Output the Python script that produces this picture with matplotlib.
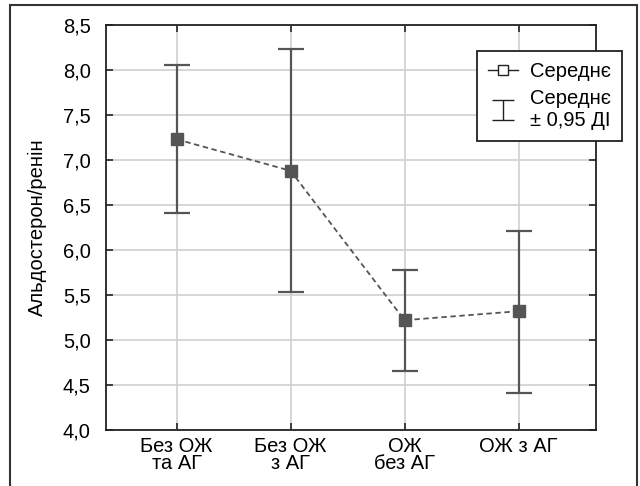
import numpy as np
import matplotlib.pyplot as plt
from matplotlib import font_manager
from matplotlib.lines import Line2D
from matplotlib.patches import Rectangle

# pick the regular-width Liberation Sans file (avoid the Narrow variant)
font_file = None
for f in font_manager.fontManager.ttflist:
    if f.name == "Liberation Sans" and "Narrow" not in f.fname and f.style == "normal" and f.weight in (400, "normal", "regular"):
        font_file = f.fname
        break
if font_file:
    fam = font_manager.FontProperties(fname=font_file).get_name()
else:
    fam = "DejaVu Sans"
plt.rcParams['font.family'] = [fam, 'DejaVu Sans']

# ── Data ─────────────────────────────────────────────────────────────────────
groups = ["Без ОЖ\nта АГ", "Без ОЖ\nз АГ", "ОЖ\nбез АГ", "ОЖ з АГ"]
means = [7.23, 6.88, 5.22, 5.32]
ci_low = [6.41, 5.53, 4.66, 4.41]
ci_high = [8.06, 8.23, 5.78, 6.21]
yticks = [4.0, 4.5, 5.0, 5.5, 6.0, 6.5, 7.0, 7.5, 8.0, 8.5]

col = "#555555"
fs = 14.5
x = np.arange(len(groups))
means_a = np.array(means)
yerr = [means_a - np.array(ci_low), np.array(ci_high) - means_a]

fig = plt.figure(figsize=(6.4, 4.86), dpi=100)
ax = fig.add_axes([106 / 640, 1 - 430 / 486, 490 / 640, 405 / 486])

ax.errorbar(x, means, yerr=yerr, fmt="none", ecolor=col, elinewidth=1.6,
            capsize=9.5, capthick=1.6, zorder=3)
ax.plot(x, means, linestyle=(0, (3, 2)), color=col, linewidth=1.3, zorder=3)
ax.plot(x, means, linestyle="none", marker="s", markersize=9,
        color=col, markeredgecolor=col, zorder=4)

ax.set_xlim(-0.62, 3.68)
ax.set_ylim(4.0, 8.5)
ax.set_xticks(x)
ax.set_xticklabels(groups, fontsize=fs, linespacing=0.85)
ax.set_yticks(yticks)
ax.set_yticklabels([f"{v:.1f}".replace(".", ",") for v in yticks], fontsize=fs)
ax.tick_params(direction="in", length=5, width=1.2, color="#222222",
               top=True, right=True, pad=11)
ax.tick_params(axis="x", pad=5)
ax.grid(True, color="#d0d0d0", linewidth=1.2)
ax.set_axisbelow(True)
for s in ax.spines.values():
    s.set_color("#222222")
    s.set_linewidth(1.3)

ax.set_ylabel("Альдостерон/ренін", fontsize=fs, labelpad=11.5)

# ── Legend ───────────────────────────────────────────────────────────────────
h_mean = Line2D([], [], color="#222222", linewidth=1.0, marker="s",
                markersize=7, markerfacecolor="white", markeredgecolor="#222222")
h_ci = ax.errorbar([np.nan], [np.nan], yerr=[[1]], fmt="none", ecolor="#222222",
                   elinewidth=1.0, capsize=8, capthick=1.0)
leg = ax.legend([h_mean, h_ci], ["Середнє", "Середнє\n± 0,95 ДІ"],
                loc="upper right", bbox_to_anchor=(622 / 640, 1 - 51 / 486),
                bbox_transform=fig.transFigure, fontsize=fs, frameon=True,
                fancybox=False, edgecolor="#222222", framealpha=1,
                handlelength=1.5, handletextpad=0.6, borderpad=0.55,
                borderaxespad=0, labelspacing=0.4)
leg.get_frame().set_linewidth(1.3)

# outer frame
fig.patches.append(Rectangle((10 / 640, -0.02), 627 / 640, 1.0 - 5 / 486 + 0.02,
                             transform=fig.transFigure, fill=False,
                             edgecolor="#333333", linewidth=1.5))

fig.savefig("out.png", dpi=100)
